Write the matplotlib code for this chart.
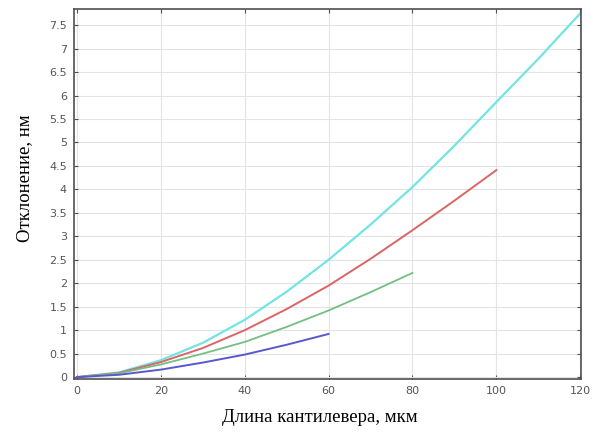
import numpy as np
import matplotlib.pyplot as plt

# cantilever length, um
x_blue = [0, 10, 20, 30, 40, 50, 60]
y_blue = [0, 0.05, 0.16, 0.31, 0.48, 0.69, 0.92]

x_green = [0, 10, 20, 30, 40, 50, 60, 70, 80]
y_green = [0, 0.08, 0.27, 0.50, 0.75, 1.07, 1.42, 1.81, 2.22]

x_red = [0, 10, 20, 30, 40, 50, 60, 70, 80, 90, 100]
y_red = [0, 0.09, 0.32, 0.62, 1.00, 1.45, 1.95, 2.52, 3.13, 3.76, 4.41]

x_cyan = [0, 10, 20, 30, 40, 50, 60, 70, 80, 90, 100, 110, 120]
y_cyan = [0, 0.10, 0.36, 0.73, 1.22, 1.82, 2.50, 3.25, 4.05, 4.93, 5.86, 6.78, 7.75]

xticks = [0, 20, 40, 60, 80, 100, 120]
yticks = [0, 0.5, 1, 1.5, 2, 2.5, 3, 3.5, 4, 4.5, 5, 5.5, 6, 6.5, 7, 7.5]
ytick_labels = ['0', '0.5', '1', '1.5', '2', '2.5', '3', '3.5', '4', '4.5',
                '5', '5.5', '6', '6.5', '7', '7.5']

fig = plt.figure(figsize=(5.93, 4.37), dpi=100)
ax = fig.add_axes([0.1248, 0.1327, 0.855, 0.8463])

ax.grid(True, color='#e4e4e4', linewidth=0.8)
ax.set_axisbelow(True)

ax.plot(x_cyan, y_cyan, color='#72e4e4', linewidth=1.6)
ax.plot(x_red, y_red, color='#dc6464', linewidth=1.4)
ax.plot(x_green, y_green, color='#74be84', linewidth=1.3)
ax.plot(x_blue, y_blue, color='#5858cc', linewidth=1.4)

ax.set_xlim(-0.7, 120.2)
ax.set_ylim(-0.04, 7.84)
ax.set_xticks(xticks)
ax.set_yticks(yticks)
ax.set_yticklabels(ytick_labels)

for s in ax.spines.values():
    s.set_color('#505050')
    s.set_linewidth(1.2)

ax.tick_params(direction='in', length=3, width=0.8, color='#505050',
               labelsize=8, labelcolor='#555555', top=True, right=True,
               pad=5)

ax.set_xlabel('Длина кантилевера, мкм', family='Liberation Serif',
              fontsize=13.5, va='center')
ax.xaxis.set_label_coords(0.485, -0.105)
ax.set_ylabel('Отклонение, нм', family='Liberation Serif',
              fontsize=13.5, va='center')
ax.yaxis.set_label_coords(-0.097, 0.543)

plt.savefig('out.png', dpi=100)
